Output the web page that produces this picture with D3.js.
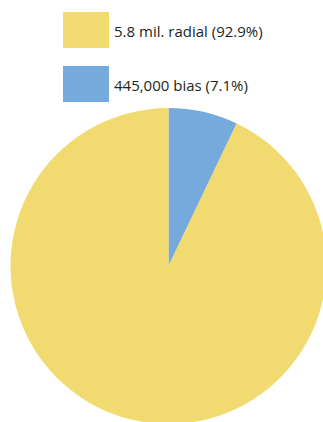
<!DOCTYPE html>
<html>
<head>
<meta charset="utf-8">
<script src="https://cdn.jsdelivr.net/npm/d3@7"></script>
<style>
  body { margin: 0; background: #fff; overflow: hidden; }
</style>
</head>
<body>
<div id="chart"></div>
<script>
    //Data
    var labels = ["445,000 bias (7.1%)", "5.8 mil. radial (92.9%)"];
    var values = [7.1, 92.9];
    var colors = ["#76A9DC", "#F1DA6F"];
    var legendOrder = [1, 0];

    var width = 323, height = 422;
    var cx = 168.5, cy = 266, radius = 158;

    var svg = d3.select("#chart")
        .append("svg")
        .attr("width", width)
        .attr("height", height);

    //Pie
    var pie = d3.pie().sort(null).value(d => d);
    var arc = d3.arc().innerRadius(0).outerRadius(radius);

    svg.append("g")
        .attr("transform", "translate(" + cx + "," + cy + ")")
        .selectAll("path")
        .data(pie(values))
        .enter()
        .append("path")
            .attr("d", arc)
            .attr("fill", (d, i) => colors[i]);

    //Legend
    var legend = svg.append("g")
        .attr("class", "legend")
        .attr("transform", "translate(63,12)");

    var rows = legend.selectAll("g")
        .data(legendOrder)
        .enter()
        .append("g")
            .attr("transform", (d, i) => "translate(0," + i * 54 + ")");

    rows.append("rect")
        .attr("width", 46)
        .attr("height", 36)
        .attr("fill", d => colors[d]);

    rows.append("text")
        .attr("x", 51)
        .attr("y", 25)
        .text(d => labels[d])
            .style("font-family", "'Open Sans', sans-serif")
            .style("font-size", "15px")
            .style("fill", "#231f20");
</script>
</body>
</html>
